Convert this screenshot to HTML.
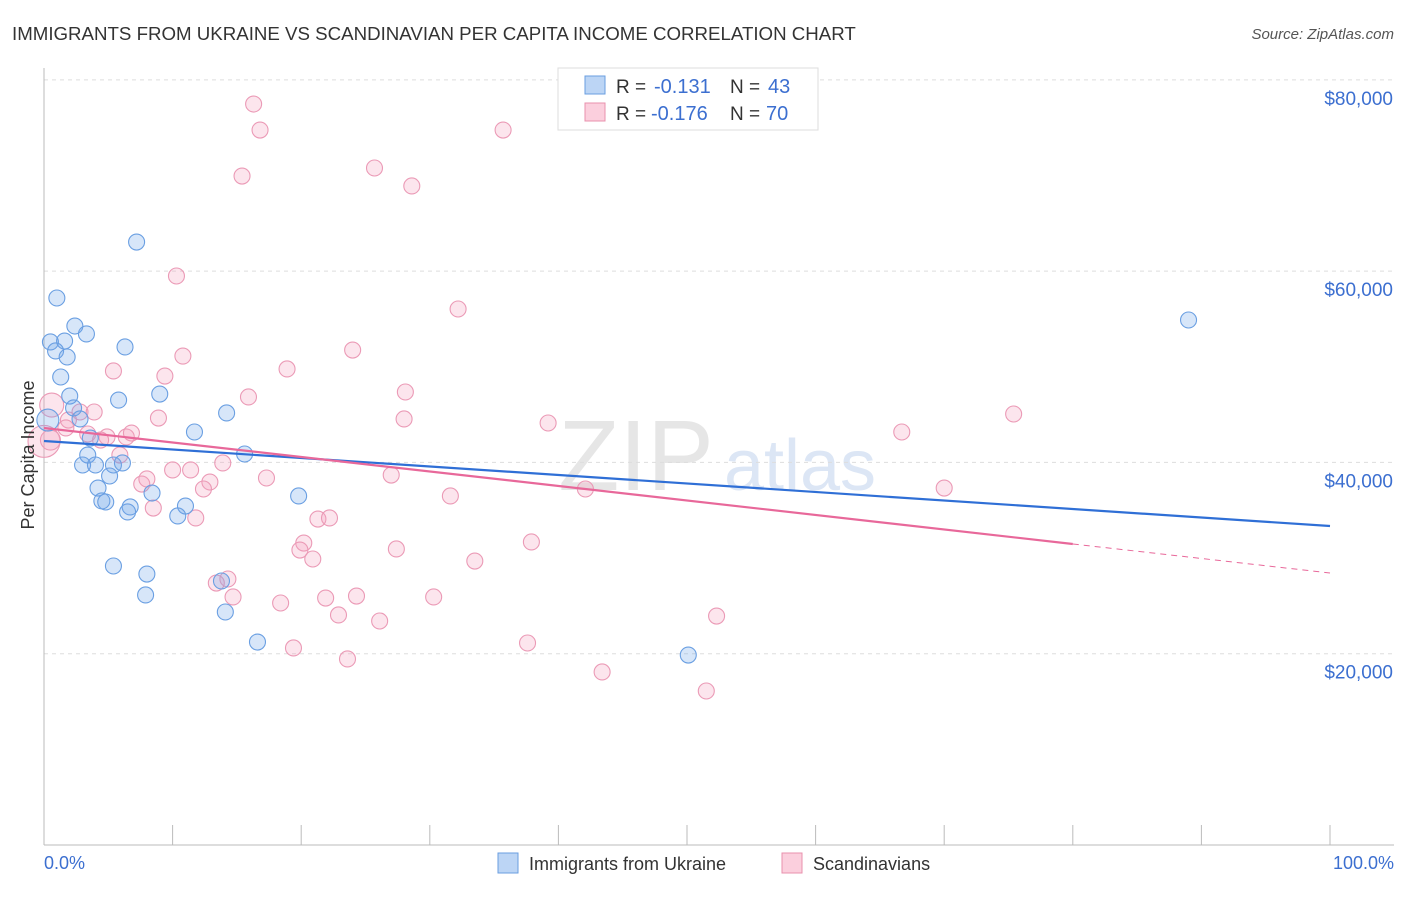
<!DOCTYPE html>
<html><head><meta charset="utf-8"><style>
body{margin:0;background:#fff;font-family:"Liberation Sans",sans-serif;}
svg text{font-family:"Liberation Sans",sans-serif;}
</style></head><body>
<svg id="chart" width="1406" height="892">
<text x="12" y="40" font-size="18.7" fill="#333">IMMIGRANTS FROM UKRAINE VS SCANDINAVIAN PER CAPITA INCOME CORRELATION CHART</text>
<text x="1394" y="39" font-size="15" fill="#555" text-anchor="end" font-style="italic">Source: ZipAtlas.com</text>
<text x="636" y="490" font-size="100" fill="#e6e6e6" text-anchor="middle" font-family="Liberation Serif">ZIP</text>
<text x="800" y="490" font-size="72" fill="#dce6f5" text-anchor="middle">atlas</text>
<g id="grid"></g><g id="pts"></g><g id="trend"></g>
<text transform="translate(34,455) rotate(-90)" font-size="18" fill="#333" text-anchor="middle">Per Capita Income</text>
<text x="44" y="869" font-size="18" fill="#3c6fd0">0.0%</text>
<text x="1394" y="869" font-size="18" fill="#3c6fd0" text-anchor="end">100.0%</text>
<g>
<rect x="558" y="68" width="260" height="62" fill="#fff" stroke="#ddd"/>
<rect x="585" y="76" width="20" height="18" fill="#bcd5f5" stroke="#6a9ee0"/>
<rect x="585" y="103" width="20" height="18" fill="#fbcfdd" stroke="#e890ad"/>
<text x="616" y="93" font-size="19" fill="#333">R = </text><text x="654" y="93" font-size="20" fill="#3c6fd0">-0.131</text>
<text x="730" y="93" font-size="19" fill="#333">N = </text><text x="768" y="93" font-size="20" fill="#3c6fd0">43</text>
<text x="616" y="120" font-size="19" fill="#333">R = </text><text x="651" y="120" font-size="20" fill="#3c6fd0">-0.176</text>
<text x="730" y="120" font-size="19" fill="#333">N = </text><text x="766" y="120" font-size="20" fill="#3c6fd0">70</text>
</g>
<g>
<rect x="498" y="853" width="20" height="20" fill="#bcd5f5" stroke="#6a9ee0"/>
<text x="529" y="870" font-size="18" fill="#333">Immigrants from Ukraine</text>
<rect x="782" y="853" width="20" height="20" fill="#fbcfdd" stroke="#e890ad"/>
<text x="813" y="870" font-size="18" fill="#333">Scandinavians</text>
</g>
</svg>
<script>
const yTicks=[20000,40000,60000,80000];
const yTickLabels=["$20,000","$40,000","$60,000","$80,000"];
const blueX=[7.2,1.0,2.4,3.3,0.5,1.6,0.9,1.8,6.3,1.3,2.0,9.0,5.8,2.3,14.2,2.8,11.7,3.6,3.4,15.6,3.0,4.0,5.4,6.1,5.1,4.2,8.4,19.8,4.5,4.8,6.7,6.5,11.0,10.4,5.4,8.0,7.9,13.8,14.1,16.6,50.1,89.0,0.3];
const blueY=[63040,57190,54260,53430,52590,52690,51650,51020,52070,48930,46940,47150,46520,45690,45170,44540,43180,42550,40770,40880,39730,39730,39730,39940,38580,37320,36800,36490,35970,35860,35340,34820,35440,34400,29170,28330,26140,27600,24360,21220,19860,54890,44430];
const pinkX=[16.3,16.8,35.7,15.4,25.7,28.6,10.3,32.2,24.0,10.8,18.9,5.4,9.4,15.9,28.1,28.0,8.9,39.2,75.4,66.7,0.6,2.8,3.9,1.9,1.7,3.4,4.9,6.4,6.8,4.4,5.9,13.9,10.0,11.4,17.3,27.0,12.9,7.6,12.4,8.0,42.1,70.0,31.6,8.5,11.8,21.3,22.2,37.9,20.2,19.9,27.4,20.9,33.5,14.3,13.4,14.7,24.3,21.9,30.3,18.4,22.9,26.1,52.3,37.6,19.4,23.6,43.4,51.5,0.5,0.0];
const pinkY=[77470,74750,74750,69940,70780,68900,59490,56040,51750,51120,49770,49560,49030,46840,47360,44540,44640,44120,45060,43180,46000,45270,45270,44430,43600,42970,42660,42660,43070,42340,40770,39940,39210,39210,38370,38680,37950,37740,37220,38270,37220,37320,36490,35230,34190,34080,34190,31680,31570,30840,30950,29900,29690,27810,27390,25930,26030,25820,25930,25300,24050,23420,23940,21120,20600,19450,18090,16100,42340,42200];
const blueTrend=[42240,33350];
const pinkTrend=[43600,28440];
const pinkSolidEnd=80;
const NS="http://www.w3.org/2000/svg";
const X=v=>44+v*12.86, Y=v=>845-v/104.55;
function el(t,a,p){const e=document.createElementNS(NS,t);for(const k in a)e.setAttribute(k,a[k]);p.appendChild(e);return e;}
const g=document.getElementById('grid');
yTicks.forEach((t,i)=>{
 const l=el('line',{x1:44,x2:1394,y1:Y(t),y2:Y(t),stroke:'#ddd','stroke-dasharray':'4,4'},g);
 
 
 const tx=el('text',{x:1393,y:Y(t)+25,'font-size':19,fill:'#3c6fd0','text-anchor':'end'},g);
 tx.textContent=yTickLabels[i];
 
 
});
const t0=el('line',{x1:44,x2:44,y1:68,y2:845,stroke:'#bbb'},g);


const ax=el('line',{x1:44,x2:1394,y1:845,y2:845,stroke:'#bbb'},g);


for(let i=1;i<=10;i++){const tk=el('line',{x1:X(i*10),x2:X(i*10),y1:825,y2:845,stroke:'#bbb'},g);
 
 }
const p=document.getElementById('pts');
function dots(xs,ys,fill,stroke,name,bigIdx,bigR){xs.forEach((x,i)=>{
 const r=bigIdx.includes(i)?bigR[bigIdx.indexOf(i)]:8;
 const c=el('circle',{cx:X(x),cy:Y(ys[i]),r:r,fill:fill,stroke:stroke,'stroke-width':1.1},p);
 
 });}
dots(pinkX,pinkY,'rgba(245,160,190,0.28)','#eb9ab6','scandinavian-point',[20,68,69],[12,10,16]);
dots(blueX,blueY,'rgba(110,165,235,0.28)','#6a9fe2','ukraine-point',[42],[11]);
const tr=document.getElementById('trend');
const b=el('line',{x1:X(0),y1:Y(blueTrend[0]),x2:X(100),y2:Y(blueTrend[1]),stroke:'#2f6fd6','stroke-width':2.2},tr);


const pm=pinkTrend[0]+(pinkTrend[1]-pinkTrend[0])*pinkSolidEnd/100;
const pk=el('line',{x1:X(0),y1:Y(pinkTrend[0]),x2:X(pinkSolidEnd),y2:Y(pm),stroke:'#e8689a','stroke-width':2.2},tr);


const pd=el('line',{x1:X(pinkSolidEnd),y1:Y(pm),x2:X(100),y2:Y(pinkTrend[1]),stroke:'#e8689a','stroke-width':1,'stroke-dasharray':'6,5'},tr);


</script>
</body></html>
